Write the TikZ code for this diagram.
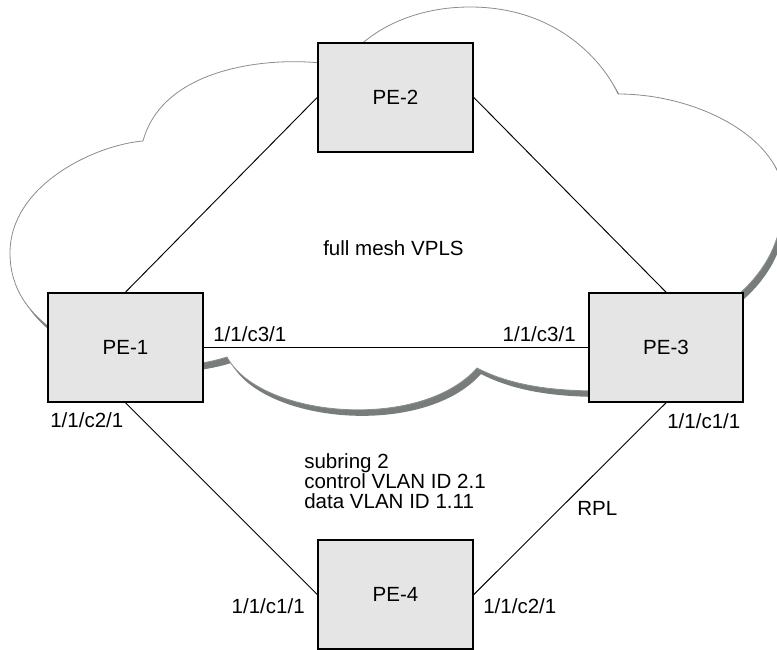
\documentclass[tikz,border=0pt]{standalone}
\usepackage{fontspec}
\setmainfont{Liberation Sans}
\definecolor{boxgray}{HTML}{E5E5E5}
\definecolor{cloudline}{HTML}{8C8C8C}
\definecolor{shadowgray}{HTML}{777D7B}
\begin{document}
\begin{tikzpicture}[x=0.75pt,y=-0.75pt,
  pebox/.style={draw=black,line width=1.5pt,fill=boxgray,minimum width=116pt,minimum height=81.5pt,inner sep=0pt,font=\fontsize{15.4}{18}\selectfont},
  lbl/.style={inner sep=0pt,font=\fontsize{15.4}{18}\selectfont},
  link/.style={line width=0.7pt,draw=black},
  cloudshadow/.style={fill=shadowgray},
  cloudbody/.style={fill=white,draw=cloudline,line width=0.6pt}]
\useasboundingbox (0,0) rectangle (777,649);
\clip (0,0) rectangle (777,649);
\def\cloudpath{(143,141) .. controls (95,145) and (10,185) .. (10,253)
 .. controls (10,290) and (30,315) .. (60,335)
 .. controls (110,370) and (180,372) .. (227,357)
 .. controls (260,418) and (420,432) .. (477,368)
 .. controls (510,385) and (550,391) .. (600,391)
 -- (725,305)
 .. controls (760,280) and (784,245) .. (783,195)
 .. controls (782,140) and (700,94) .. (618,94)
 .. controls (605,65) and (560,7) .. (470,7)
 .. controls (420,7) and (380,25) .. (355,50)
 -- (340,66)
 .. controls (290,55) and (165,60) .. (143,141) -- cycle}
\fill[cloudshadow,shift={(4,6)}] \cloudpath;
\filldraw[cloudbody] \cloudpath;

\node[pebox] (pe1) at (125.5,347.5) {PE-1};
\node[pebox] (pe2) at (395.5,97.5) {PE-2};
\node[pebox] (pe3) at (666,347.5) {PE-3};
\node[pebox] (pe4) at (395.5,594.5) {PE-4};

\draw[link] (pe1.north) -- (pe2.west);
\draw[link] (pe2.east) -- (pe3.north);
\draw[link] (pe1.east) -- (pe3.west);
\draw[link] (pe1.south) -- (pe4.west);
\draw[link] (pe3.south) -- (pe4.east);

\node[lbl,anchor=base west] (l13a) at (213,341) {1/1/c3/1};
\node[lbl,anchor=base east] (l13b) at (576,341) {1/1/c3/1};
\node[lbl,anchor=base west] (l12a) at (50,427) {1/1/c2/1};
\node[lbl,anchor=base west] (l11a) at (667,428) {1/1/c1/1};
\node[lbl,anchor=base west] (rpl) at (577,515) {RPL};
\node[lbl,anchor=base east] (l11b) at (305,613) {1/1/c1/1};
\node[lbl,anchor=base west] (l12b) at (483,613) {1/1/c2/1};
\node[lbl,anchor=base west] (vpls) at (323,255) {full mesh VPLS};
\node[lbl,anchor=base west] (sub1) at (304,468) {subring 2};
\node[lbl,anchor=base west] (sub2) at (304,488) {control VLAN ID 2.1};
\node[lbl,anchor=base west] (sub3) at (304,508) {data VLAN ID 1.11};
\end{tikzpicture}
\end{document}
